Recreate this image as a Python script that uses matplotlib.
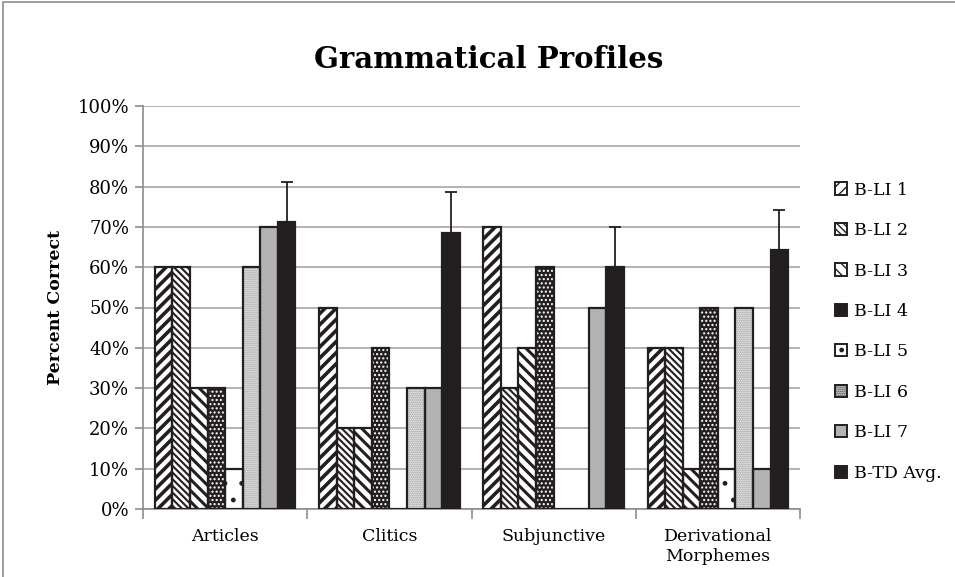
"""Grammatical profiles: percent correct per child across four categories."""

import matplotlib

matplotlib.use("Agg")

import matplotlib.pyplot as plt  # noqa: E402
import numpy as np  # noqa: E402
from matplotlib.patches import Patch, Rectangle  # noqa: E402

categories = ["Articles", "Clitics", "Subjunctive", "Derivational\nMorphemes"]
series_names = ["B-LI 1", "B-LI 2", "B-LI 3", "B-LI 4", "B-LI 5", "B-LI 6", "B-LI 7", "B-TD Avg."]
b_li_1 = [60, 50, 70, 40]
b_li_2 = [60, 20, 30, 40]
b_li_3 = [30, 20, 40, 10]
b_li_4 = [30, 40, 60, 50]
b_li_5 = [10, 0, 0, 10]
b_li_6 = [60, 30, 0, 50]
b_li_7 = [70, 30, 50, 10]
b_td_avg = [71.2, 68.6, 60.0, 64.3]
b_td_err = [10.0, 10.0, 10.0, 10.0]

series_values = [b_li_1, b_li_2, b_li_3, b_li_4, b_li_5, b_li_6, b_li_7, b_td_avg]

# (face, hatch colour, hatch, hatch linewidth)
styles = [
    ("white", "#231f20", "///", 2.6),
    ("white", "#231f20", "\\\\\\\\\\", 1.5),
    ("white", "#231f20", "\\\\\\", 2.2),
    ("#231f20", "white", "....", 1.0),
    ("white", "#231f20", ".", 1.0),
    ("white", "#8a8a8a", "........", 1.0),
    ("#b3b3b3", "#b3b3b3", "", 1.0),
    ("#231f20", "#231f20", "", 1.0),
]

plt.rcParams["font.family"] = ["DejaVu Serif"]

fig = plt.figure(figsize=(9.55, 5.77), dpi=100)
fig.patches.append(
    Rectangle((0.003, -0.01), 1.2, 1.006, transform=fig.transFigure,
              facecolor="none", edgecolor="#8c8c8c", linewidth=1.2)
)
ax = fig.add_axes([143 / 955, 1 - 509 / 577, (800 - 143) / 955, (509 - 106) / 577])

x = np.arange(len(categories))
width = 0.107
offsets = (np.arange(len(series_values)) - (len(series_values) - 1) / 2) * width

for i, vals in enumerate(series_values):
    face, hcol, hatch, hlw = styles[i]
    with plt.rc_context({"hatch.linewidth": hlw}):
        ax.bar(x + offsets[i], vals, width, facecolor=face, edgecolor=hcol,
               hatch=hatch, linewidth=0, zorder=3)
    ax.bar(x + offsets[i], vals, width, facecolor="none", edgecolor="#231f20",
           linewidth=1.6, zorder=4)

ax.errorbar(x + offsets[-1], b_td_avg, yerr=[[0] * 4, b_td_err], fmt="none",
            ecolor="#231f20", elinewidth=1.3, capsize=4.5, capthick=1.3, zorder=5)

ax.set_ylim(0, 100)
ax.set_xlim(-0.5, len(categories) - 0.5)
ax.set_yticks(np.arange(0, 101, 10))
ax.set_yticklabels([f"{v}%" for v in range(0, 101, 10)], fontsize=13)
ax.set_xticks(x)
ax.set_xticklabels(categories, fontsize=12.5)
ax.tick_params(axis="x", length=0, pad=14)
ax.set_xticks(np.arange(-0.5, len(categories), 1), minor=True)
ax.tick_params(axis="x", which="minor", length=7, color="#8c8c8c", width=1.2)
ax.tick_params(axis="y", length=6, color="#8c8c8c", width=1.2, pad=4)
ax.grid(axis="y", color="#a6a6a6", linewidth=1.2, zorder=0)
ax.set_axisbelow(True)
for side in ["top", "right"]:
    ax.spines[side].set_visible(False)
for side in ["left", "bottom"]:
    ax.spines[side].set_color("#8c8c8c")
    ax.spines[side].set_linewidth(1.2)

ax.set_ylabel("Percent Correct", fontsize=12.5, fontweight="bold", labelpad=10)
fig.text(489 / 955, 1 - 60 / 577, "Grammatical Profiles",
         ha="center", va="center", fontsize=21, fontweight="bold")

handles = []
for i, name in enumerate(series_names):
    face, hcol, hatch, hlw = styles[i]
    handles.append(Patch(facecolor=face, edgecolor="#231f20", hatch=hatch, linewidth=1.4))
ax.legend(handles, series_names, loc="center left", bbox_to_anchor=(1.03, 0.44),
          frameon=False, fontsize=12.5, handlelength=0.7, handleheight=0.7,
          handletextpad=0.35, labelspacing=1.35)

fig.savefig("out.png", dpi=100)
